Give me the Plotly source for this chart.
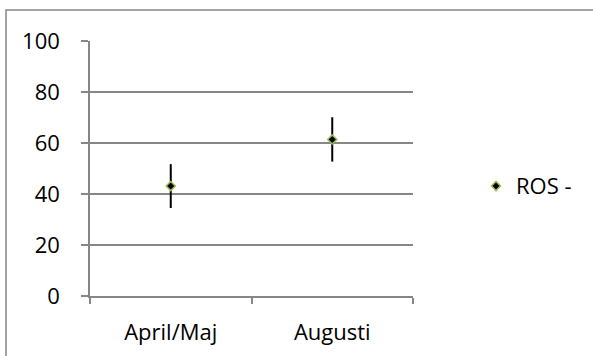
import plotly.graph_objects as go

categories = ["April/Maj", "Augusti"]
cat_pos = [0.5, 1.5]
values = [43.1, 61.4]
errors = [8.6, 8.7]
series_name = "ROS -"
y_ticks = [0, 20, 40, 60, 80, 100]

grid = "#868686"
font = dict(family="Open Sans, Liberation Sans, sans-serif", size=22, color="#000000")

fig = go.Figure()
fig.add_trace(go.Scatter(
    x=cat_pos, y=values, name=series_name, mode="markers",
    marker=dict(symbol="diamond", size=7, color="#000000",
                line=dict(color="#9BBB59", width=1.5)),
    error_y=dict(type="data", array=errors, visible=True,
                 color="#000000", thickness=2, width=0),
    showlegend=True,
))

fig.update_layout(
    width=593, height=356,
    margin=dict(l=90, r=180, t=41, b=60),
    paper_bgcolor="white", plot_bgcolor="white",
    font=font,
    xaxis=dict(range=[0, 2], tickvals=cat_pos, ticktext=categories,
               ticks="", showgrid=False, zeroline=False,
               showline=True, linecolor=grid, linewidth=1.5,
               minor=dict(tickvals=[0, 1, 2], ticks="outside", ticklen=6,
                          tickcolor=grid, tickwidth=1.5, showgrid=False),
               ticklabelstandoff=16, automargin=False, fixedrange=True),
    yaxis=dict(range=[0, 100], tickvals=y_ticks, ticks="outside", ticklen=7,
               tickcolor=grid, tickwidth=1.5, showgrid=True, gridcolor=grid,
               gridwidth=1.5, zeroline=False, showline=True, linecolor=grid,
               linewidth=1.5, ticklabelstandoff=17, automargin=False,
               fixedrange=True),
    legend=dict(x=(476 - 90) / 323, y=0.431, xanchor="left", yanchor="middle",
                bgcolor="rgba(0,0,0,0)", font=font, itemwidth=30,
                tracegroupgap=0),
    shapes=[dict(type="rect", xref="paper", yref="paper",
                 x0=(6 - 90) / 323, x1=2.0, y0=-1.0, y1=(296 - 10) / 255,
                 line=dict(color=grid, width=1.5), fillcolor="rgba(0,0,0,0)",
                 layer="below")],
)

fig.write_html("out.html", config={"displayModeBar": False},
               post_script="document.body.style.margin='0';document.body.style.overflow='hidden';")
